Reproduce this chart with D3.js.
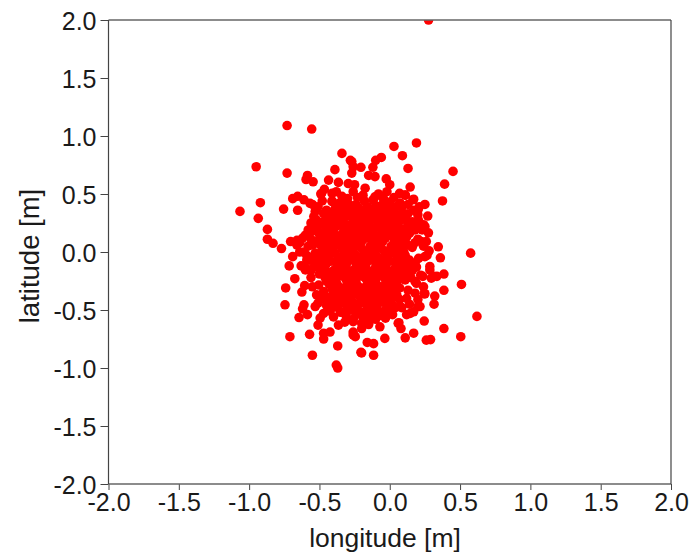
<!DOCTYPE html>
<html lang="en">
<head>
<meta charset="utf-8">
<title>Longitude / latitude scatter</title>
<script src="https://d3js.org/d3.v7.min.js"></script>
<style>
  html, body { margin: 0; padding: 0; background: #fff; overflow: hidden; }
</style>
</head>
<body>
<script>
var tickValues = [-2, -1.5, -1, -0.5, 0, 0.5, 1, 1.5, 2];
var tickLabels = ["-2.0", "-1.5", "-1.0", "-0.5", "0.0", "0.5", "1.0", "1.5", "2.0"];
var xTitle = "longitude [m]";
var yTitle = "latitude [m]";

// the loose points around the cloud, read one by one: [longitude, latitude]
var outerPoints = [
  [0.276,2.0],[-0.73,1.09],[-0.555,1.06],[-0.34,0.85],[-0.95,0.735],[-0.73,0.68],[-0.39,0.71],[-0.585,0.66],
  [-0.595,0.625],[-0.545,0.605],[-0.435,0.62],[-0.28,0.79],[-0.26,0.735],[-0.365,0.6],[-0.295,0.59],[-0.27,0.68],
  [-0.465,0.54],[-0.49,0.5],[-0.38,0.52],[-0.41,0.44],[-0.69,0.46],[-0.655,0.48],[-0.61,0.45],[-0.92,0.425],
  [-0.755,0.37],[-0.655,0.36],[-1.065,0.35],[-0.935,0.29],[-0.87,0.195],[-0.55,0.41],[-0.51,0.39],[-0.54,0.305],
  [-0.47,0.33],[0.03,0.91],[0.19,0.94],[0.09,0.83],[0.13,0.72],[0.45,0.695],[0.39,0.585],[0.375,0.44],
  [-0.06,0.815],[-0.10,0.79],[-0.12,0.73],[-0.205,0.73],[-0.27,0.78],[-0.025,0.63],[0.0,0.58],[0.145,0.56],
  [0.07,0.505],[0.11,0.49],[0.17,0.455],[0.25,0.41],[0.21,0.39],[0.27,0.31],[0.205,0.27],[0.24,0.235],
  [0.275,0.165],[0.18,0.19],[-0.15,0.66],[-0.105,0.65],[-0.25,0.58],[-0.175,0.55],[-0.12,0.45],[-0.045,0.46],
  [0.13,0.33],[0.085,0.39],[-0.87,0.11],[-0.83,0.075],[-0.77,0.03],[-0.705,0.09],[-0.69,-0.04],[-0.715,-0.12],
  [-0.675,-0.23],[-0.56,-0.22],[-0.74,-0.31],[-0.605,-0.29],[-0.625,-0.345],[-0.505,-0.285],[-0.745,-0.455],[-0.61,-0.455],
  [-0.62,-0.49],[-0.645,-0.565],[-0.585,-0.54],[-0.71,-0.73],[-0.57,-0.71],[-0.55,-0.89],[-0.37,-0.81],[-0.38,-0.975],
  [-0.37,-1.0],[-0.47,-0.75],[-0.425,-0.69],[-0.47,-0.70],[-0.51,-0.63],[-0.495,-0.57],[-0.425,-0.51],[-0.365,-0.63],
  [-0.32,-0.605],[-0.26,-0.69],[-0.245,-0.73],[-0.205,-0.865],[-0.52,-0.37],[-0.47,-0.34],[-0.53,-0.47],[-0.595,-0.14],
  [-0.64,0.0],[0.345,0.045],[0.36,-0.05],[0.575,-0.01],[0.385,-0.19],[0.51,-0.28],[0.385,-0.33],[0.32,-0.38],
  [0.315,-0.45],[0.245,-0.36],[0.62,-0.555],[0.245,-0.595],[0.385,-0.66],[0.505,-0.73],[0.29,-0.755],[0.26,-0.76],
  [0.17,-0.70],[0.11,-0.74],[0.08,-0.66],[0.065,-0.61],[-0.07,-0.645],[-0.035,-0.745],[-0.115,-0.79],[-0.16,-0.78],
  [-0.2,-0.87],[-0.115,-0.89],[-0.15,-0.625],[-0.2,-0.66],[-0.26,-0.715],[0.215,-0.47],[0.17,-0.515],[0.12,-0.54],
  [0.075,-0.47],[0.18,-0.355],[0.13,-0.33],[0.335,-0.21],[0.285,-0.125],[0.295,-0.225],[0.25,-0.04],[0.205,-0.055],
  [0.26,0.09],[0.18,-0.255]
];

var rimPoints = [
  [-0.567,0.42],[-0.53,0.35],[-0.52,0.275],[-0.6,0.145],[-0.66,0.1],[-0.64,0.08],[-0.59,-0.07],[-0.6,-0.155],
  [-0.485,0.505],[-0.41,0.505],[-0.41,0.435],[-0.26,0.52],[-0.19,0.49],[-0.105,0.475],[-0.02,0.52],[0.11,0.49],
  [0.075,0.42],[0.165,0.45],[0.2,0.36],[0.2,0.26],[0.25,0.22],[0.225,0.09],[0.265,-0.03],[0.285,-0.155],
  [0.31,-0.21],[0.235,-0.21],[0.19,-0.27],[0.25,-0.36],[0.2,-0.47],[0.145,-0.53],[0.085,-0.48],[-0.47,-0.53],
  [-0.51,-0.44],[-0.425,-0.5],[-0.4,-0.56],[-0.32,-0.53],[-0.26,-0.6],[-0.2,-0.615],[-0.14,-0.585],[-0.07,-0.545],
  [0.06,-0.615],[-0.3,0.46],[-0.23,0.47],[-0.34,0.48],[-0.08,0.5],[0.03,0.47],[0.13,0.41],[-0.48,0.44],
  [-0.56,0.25],[-0.58,0.19],[-0.55,-0.3],[-0.48,-0.4],[-0.45,-0.46],[0.14,-0.45],[0.2,-0.41],[0.24,-0.3]
];

// the dense middle, estimated by eye
var corePoints = [
  [-0.36,0.42],[-0.31,0.43],[-0.24,0.41],[-0.18,0.44],[-0.05,0.41],[0.0,0.43],[0.07,0.42],
  [-0.45,0.36],[-0.39,0.37],[-0.33,0.35],[-0.26,0.37],[-0.2,0.35],[-0.13,0.36],[-0.07,0.35],[0.02,0.37],[0.09,0.34],[0.17,0.36],
  [-0.43,0.3],[-0.37,0.29],[-0.3,0.31],[-0.23,0.29],[-0.16,0.3],[-0.1,0.28],[-0.03,0.3],[0.04,0.29],[0.1,0.31],[0.2,0.32],
  [-0.49,0.24],[-0.42,0.23],[-0.35,0.25],[-0.29,0.23],[-0.21,0.24],[-0.15,0.22],[-0.08,0.24],[-0.02,0.23],[0.06,0.25],[0.13,0.23],
  [-0.55,0.18],[-0.47,0.17],[-0.4,0.19],[-0.33,0.17],[-0.26,0.18],[-0.19,0.16],[-0.12,0.18],[-0.05,0.17],[0.03,0.19],[0.1,0.17],[0.23,0.19],
  [-0.62,0.12],[-0.56,0.11],[-0.45,0.12],[-0.38,0.11],[-0.31,0.13],[-0.24,0.11],[-0.17,0.12],[-0.1,0.1],[-0.03,0.12],[0.05,0.11],[0.12,0.13],[0.2,0.11],
  [-0.66,0.06],[-0.58,0.05],[-0.5,0.07],[-0.43,0.05],[-0.36,0.06],[-0.28,0.04],[-0.22,0.06],[-0.14,0.05],[-0.07,0.07],[0.01,0.05],[0.08,0.06],[0.16,0.04],[0.24,0.05],
  [-0.61,0.0],[-0.53,-0.01],[-0.46,0.01],[-0.39,-0.01],[-0.32,0.0],[-0.25,-0.02],[-0.18,0.0],[-0.11,-0.01],[-0.04,0.01],[0.03,-0.01],[0.1,0.0],[0.28,0.01],
  [-0.57,-0.07],[-0.49,-0.06],[-0.42,-0.08],[-0.35,-0.06],[-0.28,-0.07],[-0.21,-0.05],[-0.14,-0.07],[-0.07,-0.06],[0.0,-0.08],[0.07,-0.06],[0.14,-0.07],
  [-0.63,-0.12],[-0.54,-0.13],[-0.46,-0.12],[-0.38,-0.14],[-0.31,-0.12],[-0.24,-0.13],[-0.17,-0.11],[-0.1,-0.13],[-0.03,-0.12],[0.04,-0.14],[0.11,-0.12],[0.19,-0.13],
  [-0.5,-0.19],[-0.43,-0.18],[-0.36,-0.2],[-0.29,-0.18],[-0.22,-0.19],[-0.15,-0.17],[-0.08,-0.19],[-0.01,-0.18],[0.06,-0.2],[0.13,-0.18],[0.22,-0.2],
  [-0.45,-0.25],[-0.38,-0.26],[-0.31,-0.24],[-0.24,-0.25],[-0.17,-0.23],[-0.1,-0.25],[-0.03,-0.24],[0.04,-0.26],[0.11,-0.24],
  [-0.41,-0.32],[-0.34,-0.31],[-0.27,-0.33],[-0.2,-0.31],[-0.13,-0.32],[-0.06,-0.3],[0.01,-0.32],[0.07,-0.31],
  [-0.44,-0.39],[-0.36,-0.38],[-0.29,-0.39],[-0.22,-0.37],[-0.15,-0.39],[-0.08,-0.38],[-0.01,-0.39],[0.05,-0.37],[0.12,-0.4],
  [-0.39,-0.45],[-0.32,-0.44],[-0.25,-0.46],[-0.18,-0.44],[-0.11,-0.45],[-0.04,-0.43],[0.02,-0.46],
  [-0.35,-0.52],[-0.28,-0.5],[-0.21,-0.52],[-0.14,-0.51],[-0.07,-0.52],[0.0,-0.5],
  [-0.26,-0.58],[-0.19,-0.57],[-0.1,-0.58],[-0.03,-0.57]
];

// second pass over the middle, the spots the first list left open
var fillPoints = [
  [-0.34,0.39],[-0.28,0.4],[-0.22,0.38],[-0.16,0.39],[-0.1,0.4],[-0.03,0.38],[0.04,0.39],
  [-0.41,0.33],[-0.35,0.32],[-0.28,0.34],[-0.22,0.33],[-0.15,0.32],[-0.09,0.34],[-0.02,0.33],[0.05,0.32],[0.12,0.27],
  [-0.46,0.27],[-0.4,0.26],[-0.33,0.28],[-0.26,0.27],[-0.19,0.26],[-0.13,0.28],[-0.06,0.27],[0.01,0.26],[0.08,0.28],[0.16,0.26],
  [-0.52,0.21],[-0.45,0.2],[-0.38,0.22],[-0.31,0.2],[-0.24,0.21],[-0.17,0.2],[-0.1,0.21],[-0.03,0.2],[0.04,0.22],[0.11,0.2],[0.18,0.22],
  [-0.5,0.15],[-0.43,0.16],[-0.36,0.14],[-0.29,0.15],[-0.22,0.14],[-0.15,0.16],[-0.08,0.14],[-0.01,0.15],[0.07,0.14],[0.14,0.16],
  [-0.52,0.09],[-0.47,0.09],[-0.4,0.08],[-0.34,0.09],[-0.27,0.08],[-0.2,0.09],[-0.12,0.08],[-0.05,0.09],[0.03,0.08],[0.1,0.09],[0.18,0.08],
  [-0.48,0.03],[-0.41,0.02],[-0.34,0.03],[-0.26,0.02],[-0.2,0.03],[-0.13,0.02],[-0.06,0.03],[0.02,0.02],[0.09,0.03],
  [-0.59,-0.03],[-0.5,-0.04],[-0.44,-0.03],[-0.37,-0.04],[-0.3,-0.03],[-0.23,-0.04],[-0.16,-0.03],[-0.09,-0.04],[-0.02,-0.03],[0.05,-0.04],[0.11,-0.03],
  [-0.53,-0.09],[-0.45,-0.1],[-0.38,-0.09],[-0.31,-0.1],[-0.24,-0.09],[-0.17,-0.08],[-0.1,-0.09],[-0.03,-0.1],[0.04,-0.09],[0.11,-0.09],[0.18,-0.1],
  [-0.56,-0.16],[-0.47,-0.15],[-0.4,-0.16],[-0.33,-0.15],[-0.26,-0.16],[-0.19,-0.15],[-0.12,-0.16],[-0.05,-0.15],[0.02,-0.16],[0.09,-0.15],[0.16,-0.16],
  [-0.46,-0.22],[-0.4,-0.23],[-0.33,-0.21],[-0.26,-0.22],[-0.19,-0.21],[-0.12,-0.22],[-0.05,-0.21],[0.02,-0.23],[0.09,-0.21],[0.15,-0.22],
  [-0.43,-0.28],[-0.37,-0.29],[-0.3,-0.28],[-0.23,-0.29],[-0.16,-0.28],[-0.09,-0.29],[-0.02,-0.28],[0.05,-0.29],
  [-0.4,-0.35],[-0.32,-0.35],[-0.25,-0.36],[-0.18,-0.35],[-0.11,-0.36],[-0.04,-0.35],[0.03,-0.36],
  [-0.41,-0.42],[-0.34,-0.41],[-0.27,-0.42],[-0.2,-0.41],[-0.13,-0.42],[-0.06,-0.41],[0.01,-0.42],[0.07,-0.41],
  [-0.37,-0.48],[-0.3,-0.47],[-0.23,-0.49],[-0.16,-0.48],[-0.09,-0.49],[-0.02,-0.47],[0.04,-0.48],
  [-0.31,-0.55],[-0.24,-0.54],[-0.17,-0.55],[-0.12,-0.54],[-0.05,-0.55],[0.02,-0.54]
];

// third pass, leftover specks inside the solid area
var specks = [
  [-0.305,0.37],[-0.235,0.35],[-0.125,0.325],[-0.055,0.31],[0.015,0.305],[-0.38,0.3],[-0.265,0.3],[-0.195,0.285],
  [-0.44,0.22],[-0.33,0.215],[-0.22,0.175],[-0.13,0.2],[-0.06,0.21],[0.02,0.14],[0.08,0.2],[-0.47,0.13],
  [-0.41,0.14],[-0.26,0.13],[-0.14,0.125],[-0.06,0.12],[-0.55,0.06],[-0.46,0.06],[-0.31,0.06],[-0.1,0.04],
  [0.05,0.04],[0.13,0.06],[-0.43,-0.01],[-0.29,-0.0],[-0.15,-0.01],[-0.01,-0.0],[0.07,0.0],[-0.55,-0.05],
  [-0.34,-0.08],[-0.2,-0.08],[-0.06,-0.08],[0.08,-0.1],[-0.5,-0.12],[-0.35,-0.13],[-0.21,-0.12],[-0.07,-0.12],
  [0.07,-0.13],[0.14,-0.12],[-0.43,-0.21],[-0.29,-0.21],[-0.15,-0.2],[-0.02,-0.21],[0.06,-0.24],[-0.4,-0.29],
  [-0.27,-0.27],[-0.13,-0.26],[0.01,-0.27],[-0.37,-0.34],[-0.23,-0.33],[-0.09,-0.33],[0.03,-0.33],[-0.33,-0.38],
  [-0.19,-0.38],[-0.05,-0.39],[-0.36,-0.44],[-0.22,-0.44],[-0.08,-0.44],[-0.03,-0.5],[-0.17,-0.51],[-0.31,-0.5]
];

var width = 689, height = 553;
var plot = { left: 108.5, right: 671, top: 20, bottom: 484 };
var tickFont = 25;

var svg = d3.select("body").append("svg")
  .attr("width", width)
  .attr("height", height)
  .style("display", "block")
  .attr("font-family", "'Liberation Sans', Arial, sans-serif");

var x = d3.scaleLinear().domain([-2, 2]).range([plot.left, plot.right]);
var y = d3.scaleLinear().domain([-2, 2]).range([plot.bottom, plot.top]);

svg.append("clipPath").attr("id", "plot-clip")
  .append("rect")
  .attr("x", plot.left).attr("y", plot.top)
  .attr("width", plot.right - plot.left).attr("height", plot.bottom - plot.top);

svg.append("g")
  .attr("clip-path", "url(#plot-clip)")
  .selectAll("circle")
  .data(outerPoints.concat(rimPoints, corePoints, fillPoints, specks))
  .enter().append("circle")
  .attr("cx", function(d) { return x(d[0]); })
  .attr("cy", function(d) { return y(d[1]); })
  .attr("r", 4.8)
  .attr("fill", "#ff0000");

function labelFor(d) { return tickLabels[tickValues.indexOf(d)]; }

var xAxis = svg.append("g")
  .attr("transform", "translate(0," + plot.bottom + ")")
  .call(d3.axisBottom(x).tickValues(tickValues).tickFormat(labelFor).tickSize(6).tickPadding(3));

var yAxis = svg.append("g")
  .attr("transform", "translate(" + plot.left + ",0)")
  .call(d3.axisLeft(y).tickValues(tickValues).tickFormat(labelFor).tickSize(8).tickPadding(4));

[xAxis, yAxis].forEach(function(a) {
  a.selectAll(".domain").remove();
  a.selectAll("line").attr("stroke", "#444").attr("stroke-width", 1);
  a.selectAll("text").attr("font-size", tickFont).attr("font-family", "'Liberation Sans', Arial, sans-serif").attr("fill", "#1a1a1a");
});
yAxis.selectAll("text").attr("dy", "0.38em");

// frame: top and bottom read a bit lighter than the sides
svg.append("line").attr("x1", plot.left).attr("x2", plot.right).attr("y1", plot.top).attr("y2", plot.top)
  .attr("stroke", "#666").attr("stroke-width", 1.5);
svg.append("line").attr("x1", plot.left).attr("x2", plot.right).attr("y1", plot.bottom).attr("y2", plot.bottom)
  .attr("stroke", "#666").attr("stroke-width", 1.5);
svg.append("line").attr("x1", plot.left).attr("x2", plot.left).attr("y1", plot.top).attr("y2", plot.bottom)
  .attr("stroke", "#444").attr("stroke-width", 1.2);
svg.append("line").attr("x1", plot.right).attr("x2", plot.right).attr("y1", plot.top).attr("y2", plot.bottom)
  .attr("stroke", "#444").attr("stroke-width", 1.2);

svg.append("text")
  .attr("x", 385)
  .attr("y", 547)
  .attr("text-anchor", "middle")
  .attr("font-size", 26.5)
  .attr("fill", "#1a1a1a")
  .text(xTitle);

svg.append("text")
  .attr("transform", "translate(39,256) rotate(-90)")
  .attr("text-anchor", "middle")
  .attr("font-size", 27.5)
  .attr("fill", "#1a1a1a")
  .text(yTitle);
</script>
</body>
</html>
